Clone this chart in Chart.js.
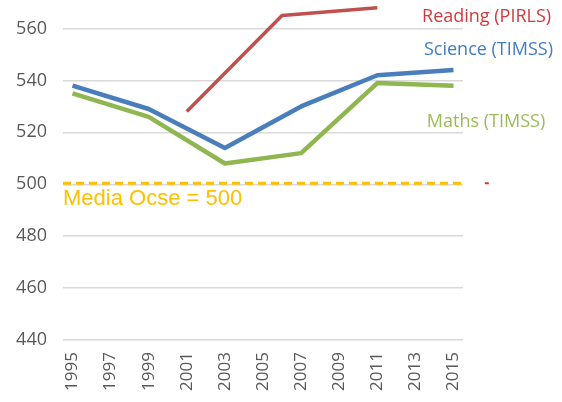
<!DOCTYPE html>
<html>
<head>
<meta charset="utf-8">
<script src="https://cdn.jsdelivr.net/npm/chart.js@4.4.0/dist/chart.umd.min.js"></script>
<style>
  body { margin: 0; background: #fff; }
  #wrap { width: 562px; height: 402px; }
</style>
</head>
<body>
<div id="wrap"><canvas id="chart"></canvas></div>
<script>
// values
const timssYears = [1995, 1999, 2003, 2007, 2011, 2015];
const scienceValues = [538, 529, 514, 530, 542, 544];
const mathsValues = [535, 526, 508, 512, 539, 538];
const readingYears = [2001, 2006, 2011];
const readingValues = [528, 565, 568];
const ocseValue = 500.4;
const xTickLabels = [1995, 1997, 1999, 2001, 2003, 2005, 2007, 2009, 2011, 2013, 2015];
const yTickLabels = [440, 460, 480, 500, 520, 540, 560];

const toPoints = (xs, ys) => xs.map((x, i) => ({ x: x, y: ys[i] }));

// text labels, anchored in data space
const seriesLabels = [
    { text: 'Reading (PIRLS)', x: 2013.35, y: 564.6, color: '#d0393b', font: '18px "Open Sans"' },
    { text: 'Science (TIMSS)', x: 2013.45, y: 551.9, color: '#3f7cc4', font: '18px "Open Sans"' },
    { text: 'Maths (TIMSS)', x: 2013.6, y: 524, color: '#9bbb59', font: '18px "Open Sans"' },
    { text: 'Media Ocse = 500', x: 1994.5, y: 494.5, color: '#ffc000', font: '22px "Liberation Sans"' },
];

const annotations = {
    id: 'annotations',
    beforeDatasetsDraw(chart) {
        // dashed OECD average across the whole plot
        const { ctx, chartArea, scales } = chart;
        const y = scales.y.getPixelForValue(ocseValue);
        ctx.save();
        ctx.strokeStyle = '#ffc000';
        ctx.lineWidth = 3;
        ctx.setLineDash([8, 5]);
        ctx.beginPath();
        ctx.moveTo(chartArea.left, y);
        ctx.lineTo(chartArea.right, y);
        ctx.stroke();
        ctx.restore();
    },
    afterDraw(chart) {
        const { ctx, scales } = chart;
        ctx.save();
        ctx.textBaseline = 'middle';
        ctx.textAlign = 'left';
        seriesLabels.forEach(l => {
            ctx.font = l.font;
            ctx.fillStyle = l.color;
            ctx.fillText(l.text, scales.x.getPixelForValue(l.x), scales.y.getPixelForValue(l.y));
        });
        // small red tick right of the dashed line
        const dx = scales.x.getPixelForValue(2016.75);
        const dy = scales.y.getPixelForValue(ocseValue);
        ctx.fillStyle = '#d0393b';
        ctx.fillRect(dx - 2, dy - 1, 4, 2);
        ctx.restore();
    }
};

new Chart(document.getElementById('chart'), {
    type: 'line',
    data: {
        datasets: [
            {
                label: 'Reading (PIRLS)',
                data: toPoints(readingYears, readingValues),
                borderColor: '#c0504d',
                borderWidth: 3.5,
            },
            {
                label: 'Maths (TIMSS)',
                data: toPoints(timssYears, mathsValues),
                borderColor: '#8fb651',
                borderWidth: 4.5,
            },
            {
                label: 'Science (TIMSS)',
                data: toPoints(timssYears, scienceValues),
                borderColor: '#4a7ebb',
                borderWidth: 4.5,
            },
        ]
    },
    options: {
        responsive: true,
        maintainAspectRatio: false,
        animation: false,
        layout: { padding: { left: 0, right: 99, top: 0, bottom: 0 } },
        elements: {
            point: { radius: 0 },
            line: { tension: 0, borderJoinStyle: 'round' },
        },
        plugins: {
            legend: { display: false },
            tooltip: { enabled: false },
        },
        scales: {
            x: {
                type: 'linear',
                min: 1994.5,
                max: 2015.5,
                afterBuildTicks: s => { s.ticks = xTickLabels.map(v => ({ value: v })); },
                afterFit: s => { s.height = 62; },
                grid: { display: false, drawTicks: false },
                border: { display: false },
                ticks: {
                    autoSkip: false,
                    minRotation: 90,
                    maxRotation: 90,
                    padding: 12,
                    color: '#595959',
                    font: { family: '"Open Sans"', size: 17 },
                    callback: v => String(v),
                },
            },
            y: {
                min: 440,
                max: 571,
                afterBuildTicks: s => { s.ticks = yTickLabels.map(v => ({ value: v })); },
                afterFit: s => { s.width = 63; s.paddingTop = 0; s.paddingBottom = 0; },
                grid: { color: '#d9d9d9', lineWidth: 1.5, drawTicks: false },
                border: { display: false },
                ticks: {
                    padding: 16,
                    color: '#595959',
                    font: { family: '"Open Sans"', size: 18 },
                },
            },
        },
    },
    plugins: [annotations],
});
</script>
</body>
</html>
